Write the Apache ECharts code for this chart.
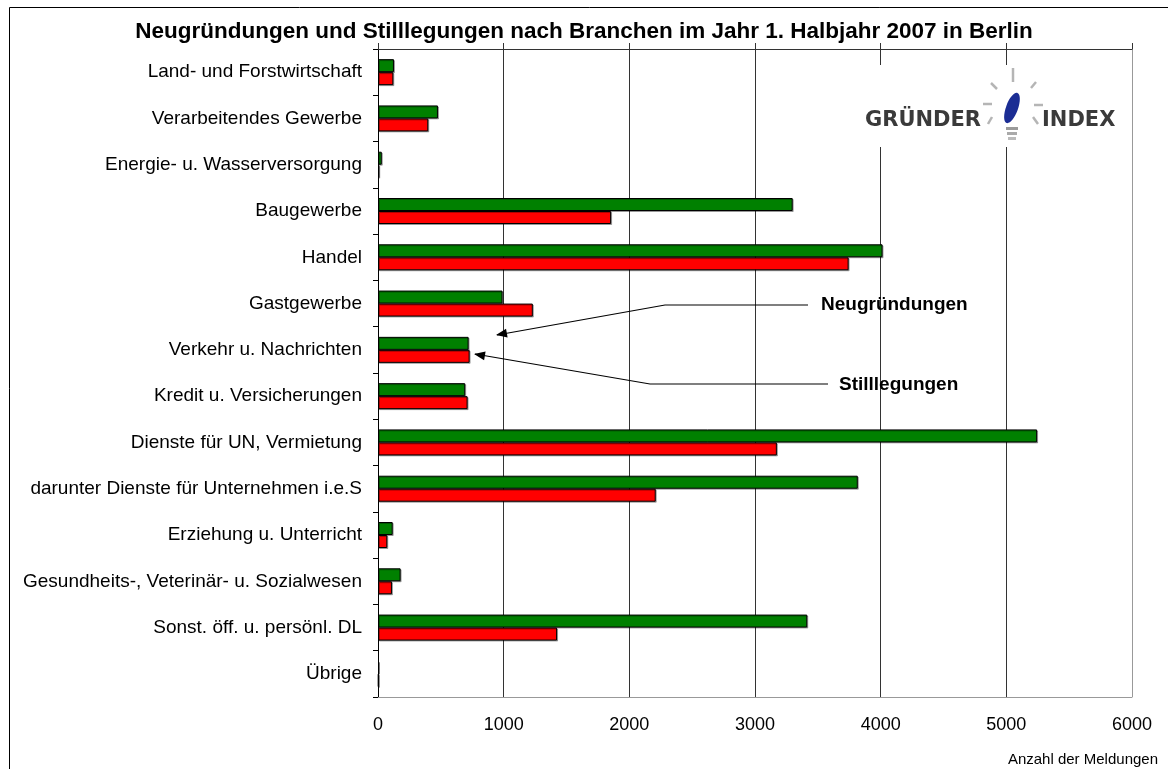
<!DOCTYPE html>
<html>
<head>
<meta charset="utf-8">
<title>Neugründungen und Stilllegungen</title>
<script src="https://cdn.jsdelivr.net/npm/echarts@6/dist/echarts.min.js"></script>
<style>
  html, body { margin: 0; padding: 0; background: #fff; }
  #chart { width: 1168px; height: 769px; }
</style>
</head>
<body>
<div id="chart"></div>
<script>
  // Branchen, von oben nach unten
  var branchen = [
    'Land- und Forstwirtschaft',
    'Verarbeitendes Gewerbe',
    'Energie- u. Wasserversorgung',
    'Baugewerbe',
    'Handel',
    'Gastgewerbe',
    'Verkehr u. Nachrichten',
    'Kredit u. Versicherungen',
    'Dienste für UN, Vermietung',
    'darunter Dienste für Unternehmen i.e.S',
    'Erziehung u. Unterricht',
    'Gesundheits-, Veterinär- u. Sozialwesen',
    'Sonst. öff. u. persönl. DL',
    'Übrige'
  ];
  var neugruendungen = [127, 477, 30, 3300, 4015, 991, 721, 694, 5245, 3818, 117, 180, 3416, 8];
  var stilllegungen = [122, 400, 10, 1855, 3745, 1232, 729, 713, 3174, 2210, 74, 111, 1425, 5];
  var xMin = 0;
  var xMax = 6000;
  var xStep = 1000;

  var FONT = '"Liberation Sans", Arial, sans-serif';

  // pfeilspitze als dreieck
  function arrowHead(fx, fy, tx, ty) {
    var dx = tx - fx, dy = ty - fy;
    var len = Math.sqrt(dx * dx + dy * dy);
    var ux = dx / len, uy = dy / len;
    var L = 11, W = 4.5;
    return [
      [tx, ty],
      [tx - ux * L - uy * W, ty - uy * L + ux * W],
      [tx - ux * L + uy * W, ty - uy * L - ux * W]
    ];
  }

  function ray(x1, y1, x2, y2) {
    return {
      type: 'line', z: 101,
      shape: {x1: x1, y1: y1, x2: x2, y2: y2},
      style: {stroke: '#b5b5b5', lineWidth: 2.5}
    };
  }

  var myChart = echarts.init(document.getElementById('chart'));

  myChart.setOption({
    backgroundColor: '#fff',
    animation: false,
    title: {
      text: 'Neugründungen und Stilllegungen nach Branchen im Jahr 1. Halbjahr 2007 in Berlin',
      left: 'center',
      top: 20,
      padding: 0,
      textStyle: {
        fontFamily: FONT,
        fontSize: 22.5,
        fontWeight: 'bold',
        color: '#000'
      }
    },
    grid: {
      left: 378,
      right: 36,
      top: 49,
      bottom: 72,
      containLabel: false
    },
    xAxis: [
      {
        type: 'value',
        position: 'bottom',
        min: xMin,
        max: xMax,
        interval: xStep,
        axisLine: {show: true, lineStyle: {color: '#999', width: 1}},
        axisTick: {show: false},
        axisLabel: {
          margin: 19,
          fontFamily: FONT,
          fontSize: 18,
          color: '#000',
          formatter: function (v) { return String(v); }
        },
        splitLine: {
          show: true,
          lineStyle: {
            color: ['#222', '#333', '#333', '#333', '#333', '#333', '#999'],
            width: 1
          }
        }
      },
      {
        type: 'value',
        position: 'top',
        min: xMin,
        max: xMax,
        interval: xStep,
        axisLine: {show: true, lineStyle: {color: '#333', width: 1}},
        axisTick: {show: true, length: 6, lineStyle: {color: '#333'}},
        axisLabel: {show: false},
        splitLine: {show: false}
      }
    ],
    yAxis: {
      type: 'category',
      inverse: true,
      data: branchen,
      axisLine: {show: true, lineStyle: {color: '#000', width: 1}},
      axisTick: {show: true, length: 5, lineStyle: {color: '#000'}},
      axisLabel: {
        margin: 16,
        fontFamily: FONT,
        fontSize: 19,
        color: '#000'
      },
      splitLine: {show: false}
    },
    series: [
      {
        name: 'Neugründungen',
        type: 'bar',
        xAxisIndex: 0,
        barWidth: 13,
        barGap: '0%',
        data: neugruendungen,
        itemStyle: {
          color: '#008000',
          borderColor: '#000',
          borderWidth: 1,
          shadowColor: 'rgba(0,0,0,0.3)',
          shadowOffsetX: 1,
          shadowOffsetY: 1
        }
      },
      {
        name: 'Stilllegungen',
        type: 'bar',
        xAxisIndex: 0,
        barWidth: 13,
        barGap: '0%',
        data: stilllegungen,
        itemStyle: {
          color: '#ff0000',
          borderColor: '#000',
          borderWidth: 1,
          shadowColor: 'rgba(0,0,0,0.3)',
          shadowOffsetX: 1,
          shadowOffsetY: 1
        }
      }
    ],
    graphic: [
      // rahmen
      {
        type: 'rect', z: 0, silent: true,
        shape: {x: 9.5, y: 7.5, width: 1300, height: 900},
        style: {fill: null, stroke: '#000', lineWidth: 1}
      },
      // logo
      {
        type: 'rect', z: 100,
        shape: {x: 858, y: 65, width: 272, height: 82},
        style: {fill: '#fff'}
      },
      {
        type: 'text', z: 101, left: 865, top: 110,
        style: {text: 'GRÜNDER', fill: '#3a3a3a', font: 'bold 21px "DejaVu Sans", sans-serif'}
      },
      {
        type: 'text', z: 101, left: 1042, top: 110,
        style: {text: 'INDEX', fill: '#3a3a3a', font: 'bold 21px "DejaVu Sans", sans-serif'}
      },
      ray(1013, 68, 1013, 82),
      ray(991, 83, 997, 89),
      ray(1036, 82, 1031, 88),
      ray(983, 104, 992, 104),
      ray(1034, 105, 1043, 105),
      ray(992, 117, 988, 124),
      ray(1033, 117, 1038, 124),
      {
        type: 'ellipse', z: 102,
        shape: {cx: 1012, cy: 108, rx: 6, ry: 16},
        rotation: -0.35,
        originX: 1012, originY: 108,
        style: {fill: '#1b2d94'}
      },
      {
        type: 'rect', z: 101,
        shape: {x: 1006, y: 127, width: 12, height: 3},
        style: {fill: '#9a9a9a'}
      },
      {
        type: 'rect', z: 101,
        shape: {x: 1007, y: 132, width: 10, height: 3},
        style: {fill: '#aaaaaa'}
      },
      {
        type: 'rect', z: 101,
        shape: {x: 1008, y: 137, width: 8, height: 3},
        style: {fill: '#bbbbbb'}
      },
      // beschriftung Neugründungen
      {
        type: 'polyline', z: 100,
        shape: {points: [[808, 305], [665, 305], [497, 335]]},
        style: {stroke: '#000', lineWidth: 1.2, fill: null}
      },
      {
        type: 'polygon', z: 100,
        shape: {points: arrowHead(665, 305, 496, 335)},
        style: {fill: '#000'}
      },
      {
        type: 'text', z: 100, left: 821, top: 295,
        style: {text: 'Neugründungen', fill: '#000', font: 'bold 19px "Liberation Sans", Arial, sans-serif'}
      },
      // beschriftung Stilllegungen
      {
        type: 'polyline', z: 100,
        shape: {points: [[828, 384], [650, 384], [475, 354]]},
        style: {stroke: '#000', lineWidth: 1.2, fill: null}
      },
      {
        type: 'polygon', z: 100,
        shape: {points: arrowHead(650, 384, 474, 354)},
        style: {fill: '#000'}
      },
      {
        type: 'text', z: 100, left: 839, top: 375,
        style: {text: 'Stilllegungen', fill: '#000', font: 'bold 19px "Liberation Sans", Arial, sans-serif'}
      },
      // achsentitel
      {
        type: 'text', z: 100, right: 10, top: 752,
        style: {text: 'Anzahl der Meldungen', fill: '#000', font: '15px "Liberation Sans", Arial, sans-serif'}
      }
    ]
  });
</script>
</body>
</html>
